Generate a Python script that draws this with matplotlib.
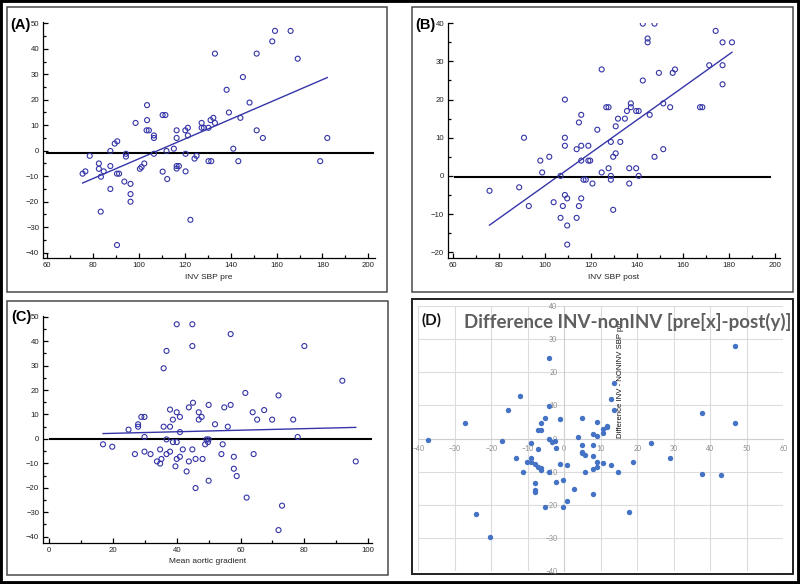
import numpy as np
import matplotlib
matplotlib.use("Agg")
import matplotlib.pyplot as plt
from matplotlib.ticker import MultipleLocator
from matplotlib.patches import Rectangle

# ---------------- data ----------------
A_x = [75.4, 76.6, 78.5, 82.5, 82.5, 83.4, 83.3, 84.6, 87.5, 87.5, 87.5, 89.4, 90.5, 90.4, 91.3, 90.4,
       93.6, 94.3, 94.3, 96.3, 96.3, 96.3, 98.5, 100.4, 101.1, 102.3, 103.5, 103.5, 103.3, 104.3, 106.5,
       106.5, 106.5, 110.3, 111.5, 110.3, 112.0, 112.3, 115.2, 116.4, 116.4, 116.4, 116.4, 117.4, 120.2,
       120.3, 120.3, 121.3, 121.3, 122.4, 124.2, 125.1, 127.3, 127.3, 128.3, 130.3, 130.3, 131.5, 131.2,
       132.4, 133.1, 133.1, 138.2, 139.2, 141.1, 143.3, 144.2, 145.3, 148.2, 151.3, 151.3, 154.0, 158.1,
       159.3, 166.1, 169.2, 179.0, 182.1]
A_y = [-9.0, -8.1, -2.0, -5.0, -7.1, -10.2, -23.9, -8.1, -6.0, -0.1, -15.0, 2.8, 3.7, -9.0, -9.0, -37.0,
       -12.1, -1.2, -2.3, -13.0, -17.0, -20.0, 10.9, -7.1, -6.4, -5.0, 17.9, 12.0, 8.0, 8.0, 6.0, 5.0,
       -1.2, 14.0, 14.0, -8.2, -0.1, -11.1, 0.8, 8.0, 5.0, -6.0, -7.0, -6.0, 8.0, -1.2, -8.1, 9.0, 6.0,
       -27.1, -3.1, -2.0, 10.9, 9.0, 9.0, 9.0, -4.1, -4.1, 12.0, 12.9, 10.9, 38.1, 23.9, 15.0, 0.8, -4.1,
       12.9, 28.9, 18.9, 38.1, 8.0, 5.0, 42.9, 47.0, 47.0, 36.1, -4.1, 5.0]

B_x = [75.8, 88.7, 90.8, 92.9, 97.9, 98.7, 101.8, 103.7, 106.7, 106.7, 107.7, 108.6, 108.6, 108.6, 108.6,
       109.6, 109.6, 109.6, 113.7, 113.7, 114.7, 114.7, 115.7, 115.7, 115.7, 115.7, 116.7, 117.7, 118.8,
       118.8, 119.6, 120.6, 122.7, 124.6, 124.6, 126.6, 127.6, 127.6, 128.6, 128.6, 128.6, 129.6, 129.6,
       130.7, 130.7, 131.7, 132.7, 134.7, 135.6, 136.6, 136.6, 137.3, 137.3, 139.6, 140.7, 139.6, 140.7,
       142.5, 142.5, 144.6, 144.6, 145.5, 147.6, 147.6, 149.5, 151.4, 151.4, 154.4, 155.5, 156.5, 167.4,
       168.4, 171.4, 174.2, 177.2, 177.2, 177.2, 181.3]
B_y = [-3.9, -3.0, 10.0, -7.9, 4.0, 0.9, 5.0, -6.9, 0.0, -11.0, -7.9, 20.0, 10.0, 7.9, -5.0, -5.9, -13.0,
       -18.0, 7.0, -11.0, 14.0, -7.9, 16.0, 7.9, 4.0, -5.9, -1.0, -1.0, 7.9, 4.0, 4.0, -2.0, 12.1, 27.9,
       0.9, 18.0, 18.0, 2.0, 8.9, 0.0, -1.0, 5.0, -8.9, 13.0, 5.9, 15.0, 8.9, 15.0, 17.0, 2.0, -2.0, 19.0,
       18.0, 17.0, 17.0, 2.0, 0.0, 39.9, 25.0, 36.0, 35.0, 16.0, 39.9, 5.0, 27.0, 19.0, 7.0, 18.0, 27.0,
       27.9, 18.0, 18.0, 29.0, 38.0, 35.0, 29.0, 24.0, 35.0]

C_x = [16.9, 19.8, 24.9, 26.9, 27.9, 27.9, 28.9, 29.9, 29.9, 29.9, 31.8, 33.8, 34.8, 34.8, 35.2, 35.9,
       35.9, 36.8, 36.8, 36.8, 37.9, 37.9, 37.9, 38.8, 38.8, 40.0, 40.0, 40.0, 40.0, 39.6, 41.0, 41.0,
       41.0, 41.9, 43.1, 43.8, 43.8, 44.9, 44.9, 45.1, 44.9, 45.9, 45.9, 46.9, 46.9, 47.8, 48.1, 48.9,
       49.3, 49.8, 50.0, 50.0, 50.0, 52.0, 54.0, 54.4, 54.9, 56.0, 56.9, 56.9, 57.9, 57.9, 58.8, 61.5,
       61.9, 63.8, 64.1, 65.2, 67.4, 69.9, 71.9, 71.9, 73.0, 76.5, 77.9, 80.0, 91.9, 96.1]
C_y = [-2.2, -3.2, 3.8, -6.2, 6.0, 5.0, 9.0, 9.0, 0.8, -5.2, -6.2, -9.2, -10.1, -4.3, -8.2, 28.9, 5.0,
       36.0, -0.2, -6.2, 12.0, 5.0, -5.2, 7.9, -1.3, 46.9, 10.9, -1.3, -8.2, -11.2, 9.0, 2.8, -7.3, -4.3,
       -13.3, 12.9, -9.2, 46.9, 38.0, 14.8, -4.3, -8.2, -20.1, 10.9, 7.9, 9.0, -8.2, -2.2, -0.2, -1.3,
       -0.2, 13.9, -17.1, 6.0, -6.2, -2.2, 12.9, 5.0, 42.9, 13.9, -7.3, -12.2, -15.2, 18.8, -24.0, 10.9,
       -6.2, 7.9, 11.8, 7.9, 17.8, -37.3, -27.3, 7.9, 0.8, 38.0, 23.8, -9.2]

D_x = [-37.3, -27.2, -24.3, -20.4, -17.2, -15.3, -13.2, -12.1, -11.2, -10.2, -9.2, -9.2, -9.2, -8.1, -8.1,
       -8.1, -8.1, -7.3, -7.3, -7.3, -6.3, -6.3, -6.3, -6.3, -5.3, -5.3, -4.3, -4.3, -4.3, -4.3, -3.4,
       -2.5, -2.3, -2.3, -1.2, -1.2, -0.3, -0.3, 0.7, 0.7, 2.6, 3.8, 4.8, 4.8, 4.8, 4.8, 5.8, 5.8, 7.8,
       7.8, 7.8, 7.8, 7.8, 8.9, 8.9, 8.9, 8.9, 10.7, 10.7, 10.7, 11.7, 11.7, 12.7, 12.7, 13.7, 13.7,
       14.8, 17.8, 18.8, 23.8, 28.9, 37.8, 37.8, 42.8, 46.8, 46.8]
D_y = [-0.5, 4.8, -22.7, -29.8, -0.9, 8.5, -5.8, 12.9, -10.1, -7.1, -1.5, -6.0, -7.1, -7.6, -13.5, -15.5,
       -16.2, -3.1, 2.7, -8.7, 4.8, 2.7, -9.0, -9.4, 6.1, -20.7, 9.9, 24.4, -0.1, -10.1, -1.0, -0.9,
       -2.8, -13.2, 5.8, -7.6, -12.4, -20.7, -8.1, -19.0, -15.1, 0.5, 6.2, -2.1, -4.2, -4.5, -5.1, -10.1,
       1.3, -2.1, -5.4, -9.2, -16.7, 4.9, 0.9, -7.2, -8.6, 2.8, 1.8, -7.4, 3.4, 3.9, 11.9, -8.1, 16.7,
       8.5, -10.1, -22.1, -7.1, -1.4, -6.0, 7.8, -10.8, -11.0, 27.8, 4.8]

# horizontal reference lines (level, x-start, x-end)
A_ref = (-0.7, 60.0, 202.0)
B_ref = (-0.2, 60.7, 197.8)
C_ref = (-0.2, 0.3, 100.8)

A_xlabel = "INV SBP pre"
B_xlabel = "INV SBP post"
C_xlabel = "Mean aortic gradient"
D_title = "Difference INV-nonINV [pre[x]-post(y)]"
D_ylabel = "Difference INV - NONINV SBP pre"

# ---------------- layout helpers ----------------
W, H = 800, 584
fig = plt.figure(figsize=(W / 100, H / 100), dpi=100)
fig.patch.set_facecolor("white")

ARIAL = ["Liberation Sans", "DejaVu Sans"]
CALIBRI = ["Lato", "DejaVu Sans"]
BLUE = "#3535a8"


def rect(l, t, r, b):
    return [l / W, 1 - b / H, (r - l) / W, (b - t) / H]


def frame(l, t, r, b, color="#4a4a4a", lw=1.1):
    fig.add_artist(Rectangle((l / W, 1 - b / H), (r - l) / W, (b - t) / H,
                             transform=fig.transFigure, fill=False,
                             edgecolor=color, lw=lw, zorder=0))


def medcalc(px, x, y, xlim, ylim, xmaj, xmin, ymaj, ymin, xlabel, ref, label_off):
    ax = fig.add_axes(rect(*px))
    x = np.asarray(x)
    y = np.asarray(y)
    ax.scatter(x, y, s=13, facecolors="none", edgecolors=BLUE, linewidths=0.8, zorder=3)
    coef = np.polyfit(x, y, 1)
    xs = np.array([x.min(), x.max()])
    ax.plot(xs, np.polyval(coef, xs), color=BLUE, lw=1.0, zorder=2)
    lvl, x0, x1 = ref
    ax.plot([x0, x1], [lvl, lvl], color="black", lw=1.5, zorder=2)
    ax.set_xlim(*xlim)
    ax.set_ylim(*ylim)
    for s in ("top", "right"):
        ax.spines[s].set_visible(False)
    for s in ("left", "bottom"):
        ax.spines[s].set_linewidth(0.9)
    ax.xaxis.set_major_locator(MultipleLocator(xmaj))
    ax.xaxis.set_minor_locator(MultipleLocator(xmin))
    ax.yaxis.set_major_locator(MultipleLocator(ymaj))
    ax.yaxis.set_minor_locator(MultipleLocator(ymin))
    ax.tick_params(which="major", direction="in", length=3.4, width=0.9, labelsize=5.6, pad=2.5,
                   labelcolor="#222222")
    ax.tick_params(which="minor", direction="in", length=2.0, width=0.9)
    for lab in ax.get_xticklabels() + ax.get_yticklabels():
        lab.set_family(ARIAL)
    ax.set_xlabel(xlabel, fontsize=6, family=ARIAL, color="#222222", va="center")
    hpx = px[3] - px[1]
    ax.xaxis.set_label_coords(0.5, -label_off / hpx)
    return ax


# ---------------- frames ----------------
frame(7, 7, 387, 292)
frame(411.7, 7, 793, 292)
frame(7, 301, 388, 575)
frame(411.7, 299, 793, 574, color="#202020", lw=1.4)
fig.add_artist(Rectangle((0, 0), 1, 1, transform=fig.transFigure, fill=False,
                         edgecolor="black", lw=4.2, zorder=0))

# ---------------- panels A, B, C ----------------
medcalc((42.7, 22.5, 375, 258.3), A_x, A_y, (58.0, 202.9), (-42.2, 50.3), 20, 10, 10, 5, A_xlabel, A_ref, 19.4)
medcalc((447.7, 22.5, 780, 258.3), B_x, B_y, (57.6, 202.2), (-21.6, 40.2), 20, 10, 10, 5, B_xlabel, B_ref, 19.4)
medcalc((42.7, 316.2, 371.7, 543.3), C_x, C_y, (-2.0, 101.1), (-42.7, 50.2), 20, 10, 10, 5, C_xlabel, C_ref, 18.4)

fig.text(10 / W, 1 - 24.5 / H, "(A)", ha="left", va="center", fontsize=10.5, fontweight="bold", family=ARIAL)
fig.text(415 / W, 1 - 24.5 / H, "(B)", ha="left", va="center", fontsize=10.5, fontweight="bold", family=ARIAL)
fig.text(11 / W, 1 - 317 / H, "(C)", ha="left", va="center", fontsize=10.5, fontweight="bold", family=ARIAL)

# ---------------- panel D ----------------
axd = fig.add_axes(rect(418.3, 306, 783.3, 571))
axd.scatter(D_x, D_y, s=15, color="#4472C4", linewidths=0, zorder=3)
axd.set_xlim(-40, 60)
axd.set_ylim(-40, 40)
axd.set_xticks(np.arange(-40, 61, 10))
axd.set_yticks(np.arange(-40, 41, 10))
axd.grid(True, color="#dcdcdc", lw=0.8, zorder=0)
axd.set_axisbelow(True)
axd.spines["left"].set_position(("data", 0))
axd.spines["bottom"].set_position(("data", 0))
axd.spines["left"].set_color("#cfcfcf")
axd.spines["bottom"].set_color("#cfcfcf")
axd.spines["left"].set_linewidth(0.8)
axd.spines["bottom"].set_linewidth(0.8)
axd.spines["top"].set_visible(False)
axd.spines["right"].set_visible(False)
axd.tick_params(length=0, labelsize=5, labelcolor="#8a8a8a")
axd.tick_params(axis="x", pad=5)
axd.tick_params(axis="y", pad=5)
for lab in axd.get_xticklabels() + axd.get_yticklabels():
    lab.set_family(CALIBRI)

fig.text(620 / W, 1 - 437.7 / H, D_ylabel, rotation=90, ha="center", va="bottom",
         fontsize=5.6, family=ARIAL, color="#111111", zorder=4)
fig.text(464 / W, 1 - 328 / H, D_title, ha="left", va="baseline", fontsize=13.5,
         fontweight="bold", family=CALIBRI, color="#5f5f5f", zorder=5)
fig.text(421 / W, 1 - 320.5 / H, "(D)", ha="left", va="center", fontsize=11,
         fontweight="bold", family=CALIBRI, color="#111111", zorder=5)

fig.savefig("out.png", dpi=100, facecolor="white")
